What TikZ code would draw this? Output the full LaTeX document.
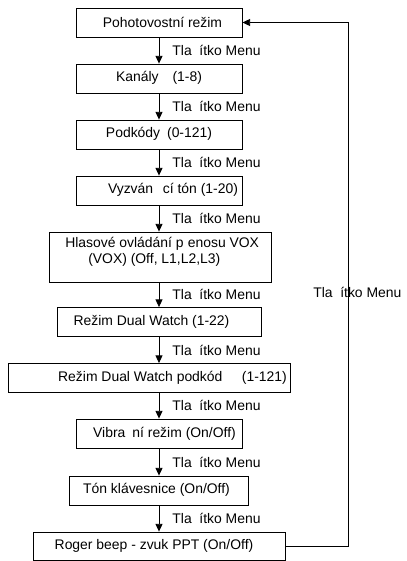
\documentclass[tikz,border=0pt]{standalone}
\usepackage{fontspec}
\setmainfont{Liberation Sans}
\usetikzlibrary{arrows.meta}
\begin{document}
\begin{tikzpicture}[x=0.025cm, y=-0.025cm, >={Triangle[length=5.5pt,width=5pt]},
    box/.style={draw, line width=0.6pt, minimum height=29*0.025cm, inner sep=0pt},
    txt/.style={inner sep=0pt, font=\fontsize{9.9}{11.4}\selectfont},
    flow/.style={->, line width=0.6pt},
    menu/.style={txt, right, xshift=13*0.025cm}]
        % --- SETTINGS ---
        \def\px{0.025cm}   % one pixel of the layout
        \useasboundingbox (0,0) rectangle (407,561);

        % --- BOXES ---
        \node[box, minimum width=166*\px] (b1) at (159,22.5) {};
        \node[box, minimum width=166*\px] (b2) at (159,78.5) {};
        \node[box, minimum width=166*\px] (b3) at (159,134.5) {};
        \node[box, minimum width=166*\px] (b4) at (159,190.5) {};
        \node[box, minimum width=222*\px, minimum height=50*\px] (b5) at (160,257) {};
        \node[box, minimum width=204*\px] (b6) at (159,322) {};
        \node[box, minimum width=282*\px] (b7) at (149,378) {};
        \node[box, minimum width=166*\px] (b8) at (159,433.5) {};
        \node[box, minimum width=179*\px] (b9) at (158.5,490.5) {};
        \node[box, minimum width=252*\px, minimum height=28*\px] (b10) at (159,546) {};

        % Box texts
        \node[txt] (t1) at (162.5,22) {Pohotovostní režim};
        \node[txt] (t2) at (159,78) {Kanály\hspace{1em}(1-8)};
        \node[txt] (t3) at (159,134) {Podkódy\hspace{0.5em}(0-121)};
        \node[txt] (t4) at (173,190) {Vyzván\hspace{0.7em}cí tón (1-20)};
        \node[txt, align=left, anchor=west] (t5) at (65,252) {Hlasové ovládání p\hspace{0.3em}enosu VOX\\\hspace*{1.65em}(VOX) (Off, L1,L2,L3)};
        \node[txt] (t6) at (151.5,322) {Režim Dual Watch (1-22)};
        \node[txt] (t7) at (172.5,378) {Režim Dual Watch podkód\hspace{1.4em}(1-121)};
        \node[txt] (t8) at (164.5,433.5) {Vibra\hspace{0.5em}ní režim (On/Off)};
        \node[txt] (t9) at (156.5,490) {Tón klávesnice (On/Off)};
        \node[txt] (t10) at (154,546) {Roger beep - zvuk PPT (On/Off)};

        % --- MENU STEPS ---
        \foreach \i/\j in {1/2, 2/3, 3/4, 4/5, 5/6, 6/7, 7/8, 8/9, 9/10} {
            \draw[flow] (b1.south |- b\i.south) -- node[menu] (m\i) {Tla\hspace{0.55em}ítko Menu} (b1.south |- b\j.north);
        }

        % Back to the start
        \coordinate (ret) at (348,0);
        \draw[flow] (b10.east) -| (ret |- b1.east) -- (b1.east);
        \node[txt, anchor=west] (m10) at (313,292) {Tla\hspace{0.55em}ítko Menu};

    \end{tikzpicture}
\end{document}
